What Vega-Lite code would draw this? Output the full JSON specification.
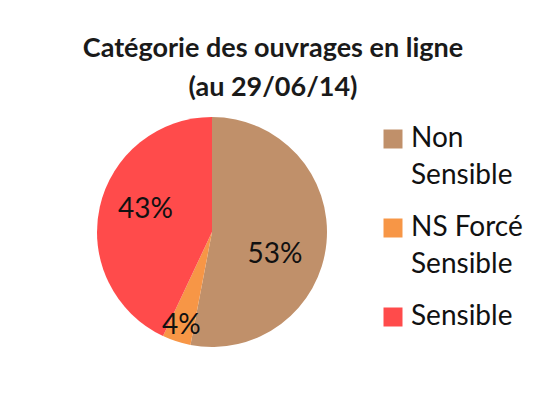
{
  "$schema": "https://vega.github.io/schema/vega-lite/v6.json",
  "autosize": {"type": "none"},
  "padding": {"left": 97, "top": 117, "right": 219, "bottom": 70},
  "width": 230,
  "height": 230,
  "background": "white",
  "config": {
    "style": {"guide-label": {"lineHeight": 37}}
  },
  "title": {
    "text": ["Catégorie des ouvrages en ligne", "(au 29/06/14)"],
    "anchor": "middle",
    "frame": "group",
    "dx": 61,
    "offset": 15,
    "font": "Lato",
    "fontSize": 27,
    "fontWeight": "bold",
    "color": "#1a1a1a",
    "lineHeight": 39
  },
  "data": {
    "values": [
      {"categorie": "Non Sensible", "part": 0.53, "ordre": 1},
      {"categorie": "NS Forcé Sensible", "part": 0.04, "ordre": 2},
      {"categorie": "Sensible", "part": 0.43, "ordre": 3}
    ]
  },
  "encoding": {
    "theta": {"field": "part", "type": "quantitative", "stack": true},
    "order": {"field": "ordre", "type": "quantitative"}
  },
  "layer": [
    {
      "mark": {"type": "arc", "outerRadius": 115},
      "encoding": {
        "color": {
          "field": "categorie",
          "type": "nominal",
          "scale": {
            "domain": ["Non Sensible", "NS Forcé Sensible", "Sensible"],
            "range": ["#C0906A", "#F79646", "#FF4B4B"]
          },
          "legend": {
            "title": null,
            "orient": "none",
            "legendX": 282,
            "legendY": 8,
            "symbolType": "square",
            "symbolSize": 361,
            "symbolStrokeWidth": 0,
            "labelFont": "Lato",
            "labelFontSize": 28,
            "labelColor": "#111111",
            "labelBaseline": "middle",
            "labelOffset": 4,
            "rowPadding": 24,
            "labelLimit": 300,
            "labelExpr": "datum.label == 'Sensible' ? datum.label : [slice(datum.label, 0, lastindexof(datum.label, ' ')), slice(datum.label, lastindexof(datum.label, ' ') + 1)]"
          }
        }
      }
    },
    {
      "mark": {"type": "text", "radius": 67, "thetaOffset": 0.255, "font": "Lato", "fontSize": 28, "color": "#111111"},
      "encoding": {
        "text": {
          "field": "part",
          "type": "quantitative",
          "format": ".0%",
          "condition": {"test": "datum.categorie != 'Non Sensible'", "value": ""}
        }
      }
    },
    {
      "mark": {"type": "text", "radius": 70, "thetaOffset": 0.094, "font": "Lato", "fontSize": 28, "color": "#111111"},
      "encoding": {
        "text": {
          "field": "part",
          "type": "quantitative",
          "format": ".0%",
          "condition": {"test": "datum.categorie != 'Sensible'", "value": ""}
        }
      }
    },
    {
      "mark": {"type": "text", "radius": 99, "font": "Lato", "fontSize": 28, "color": "#111111"},
      "encoding": {
        "text": {
          "field": "part",
          "type": "quantitative",
          "format": ".0%",
          "condition": {"test": "datum.categorie != 'NS Forcé Sensible'", "value": ""}
        }
      }
    }
  ]
}
